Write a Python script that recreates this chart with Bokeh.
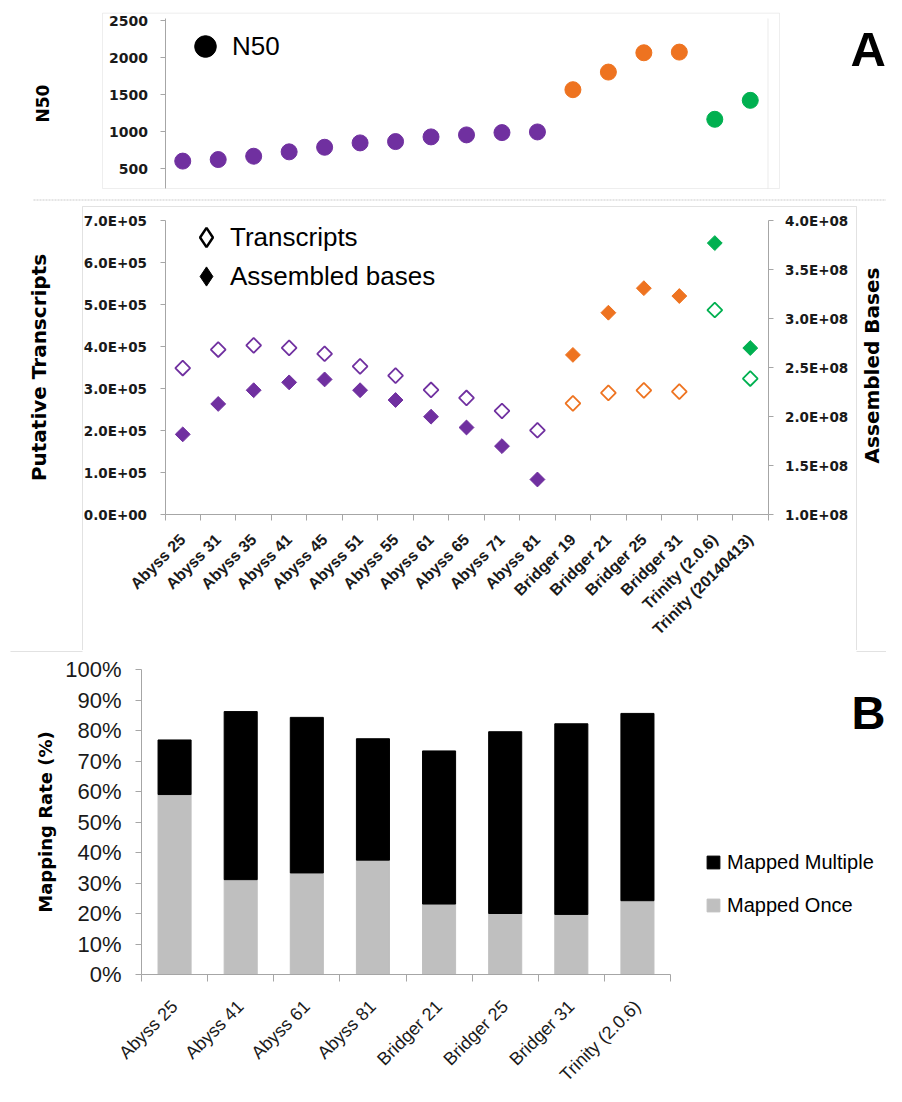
import math
from bokeh.plotting import figure
from bokeh.models import (Range1d, LinearAxis, FixedTicker, Legend, LegendItem,
                          Label, BoxAnnotation, ColumnDataSource)
from bokeh.layouts import column
from bokeh.embed import file_html
from bokeh.resources import INLINE

# ---------------- data ----------------
assemblies = ["Abyss 25", "Abyss 31", "Abyss 35", "Abyss 41", "Abyss 45", "Abyss 51",
              "Abyss 55", "Abyss 61", "Abyss 65", "Abyss 71", "Abyss 81", "Bridger 19",
              "Bridger 21", "Bridger 25", "Bridger 31", "Trinity (2.0.6)", "Trinity (20140413)"]
n50 = [600, 621, 666, 725, 787, 846, 864, 927, 954, 985, 994,
       1565, 1803, 2064, 2073, 1165, 1421]
transcripts = [349000, 393000, 403000, 397000, 383000, 353000, 331000, 297000, 278000,
               247000, 201000, 265000, 290000, 296000, 293000, 487000, 324000]
assembled_bases = [182e6, 213e6, 227e6, 235e6, 238e6, 227e6, 217e6, 200e6, 189e6,
                   170e6, 136e6, 263e6, 306e6, 331e6, 323e6, 377e6, 270e6]

n50_ticks = [500, 1000, 1500, 2000, 2500]
transcript_ticks = [0, 100000, 200000, 300000, 400000, 500000, 600000, 700000]
transcript_tick_labels = ["0.0E+00", "1.0E+05", "2.0E+05", "3.0E+05", "4.0E+05",
                          "5.0E+05", "6.0E+05", "7.0E+05"]
bases_ticks = [100000000, 150000000, 200000000, 250000000, 300000000, 350000000, 400000000]
bases_tick_labels = ["1.0E+08", "1.5E+08", "2.0E+08", "2.5E+08", "3.0E+08", "3.5E+08", "4.0E+08"]

mapping_assemblies = ["Abyss 25", "Abyss 41", "Abyss 61", "Abyss 81",
                      "Bridger 21", "Bridger 25", "Bridger 31", "Trinity (2.0.6)"]
mapped_once = [59.0, 31.1, 33.3, 37.5, 23.1, 20.0, 19.7, 24.2]
mapped_multiple = [17.9, 55.1, 51.0, 39.8, 50.2, 59.6, 62.5, 61.4]
pct_ticks = [0, 10, 20, 30, 40, 50, 60, 70, 80, 90, 100]
pct_tick_labels = ["0%", "10%", "20%", "30%", "40%", "50%", "60%", "70%", "80%", "90%", "100%"]

group_colors = {"Abyss": "#7030A0", "Bridger": "#EE7320", "Trinity": "#00B050"}

# ---------------- helpers ----------------
W = 886
AXIS_GRAY = "#a6a6a6"
BOX_GRAY = "#c8c8c8"
TXT = "#1a1a1a"
NAN = float("nan")


def lin(v0, p0, v1, p1, total):
    """Range whose values v0, v1 fall at pixel offsets p0, p1 of a span of `total` px."""
    s = (p1 - p0) / (v1 - v0)
    start = v0 - p0 / s
    return start, start + total / s


def at(r, px, total):
    return r[0] + (r[1] - r[0]) * px / total


def base_fig(h, xr, yr):
    p = figure(width=W, height=h, x_range=Range1d(*xr), y_range=Range1d(*yr),
               output_backend="svg", toolbar_location=None, min_border=0,
               min_border_left=0, min_border_right=0, min_border_top=0, min_border_bottom=0)
    p.outline_line_color = None
    p.xgrid.visible = False
    p.ygrid.visible = False
    p.background_fill_color = "white"
    p.border_fill_color = "white"
    return p


def style_axis(ax, font, size, bold=True):
    ax.axis_line_color = AXIS_GRAY
    ax.major_tick_line_color = AXIS_GRAY
    ax.minor_tick_line_color = None
    ax.major_label_text_font = font
    ax.major_label_text_font_size = size
    ax.major_label_text_font_style = "bold" if bold else "normal"
    ax.major_label_text_color = TXT
    ax.axis_label_text_color = "black"


def seg(p, x0, x1, y0, y1, color=BOX_GRAY, dash="solid"):
    p.add_layout(BoxAnnotation(left=x0, right=x1, bottom=y0, top=y1,
                               left_units="screen", right_units="screen",
                               bottom_units="screen", top_units="screen",
                               fill_color=None, line_color=color, line_width=1,
                               line_dash=dash))


def single_legend(p, label, renderer, loc, g, size):
    p.add_layout(Legend(items=[LegendItem(label=label, renderers=[renderer])], location=loc,
                        glyph_width=g, glyph_height=g, label_height=g, label_standoff=0,
                        padding=0, margin=0, border_line_color=None, background_fill_alpha=0,
                        label_text_font="Liberation Sans", label_text_font_size=size,
                        label_text_color="black"))


n = len(assemblies)
xpos = list(range(n))
colors = [group_colors[a.split()[0]] for a in assemblies]
src = ColumnDataSource(dict(x=xpos, n50=n50, tr=transcripts, ab=assembled_bases, c=colors))
XR = lin(-0.5, 164.5, n - 0.5, 767.5, W)

# ---------------- panel A top: N50 ----------------
H1 = 201
YR1 = lin(500, 33, 2500, 181, H1)
p1 = base_fig(H1, XR, YR1)
p1.xaxis.visible = False
ya = p1.yaxis[0]
style_axis(ya, "DejaVu Sans", "14px")
ya.fixed_location = -0.5
ya.bounds = (at(YR1, 13, H1), at(YR1, 183, H1))
ya.ticker = FixedTicker(ticks=n50_ticks)
ya.major_tick_out = 5
ya.major_tick_in = 0
ya.major_label_standoff = 12
ya.axis_label = "N50"
ya.axis_label_text_font = "DejaVu Sans"
ya.axis_label_text_font_style = "bold"
ya.axis_label_text_font_size = "17px"
ya.axis_label_standoff = 54

p1.scatter(x="x", y="n50", source=src, marker="circle", size=16,
           fill_color="c", line_color="c")
leg_n50 = p1.scatter(x=[NAN], y=[NAN], marker="circle", size=16,
                     fill_color="black", line_color="black")
single_legend(p1, "N50", leg_n50, (178, 128), 54, "26px")
seg(p1, 102, 779, 13, 188.3)
seg(p1, 767.5, 767.5, 13, 183, color="#dddddd")
seg(p1, 33, 886, 1.5, 1.5, color="#a0a0a0", dash="2 1")
p1.add_layout(Label(x=850, y=153, x_units="screen", y_units="screen", text="A",
                    text_font="Liberation Sans", text_font_style="bold",
                    text_font_size="49px", text_baseline="alphabetic", text_color="black"))

# ---------------- panel A bottom: transcripts / bases ----------------
H2 = 449
YR2 = lin(0, 135.7, 700000, 430, H2)
YB2 = lin(100000000, 135.7, 400000000, 430, H2)
p2 = base_fig(H2, XR, YR2)
p2.extra_y_ranges = {"bases": Range1d(*YB2)}
ya2 = p2.yaxis[0]
style_axis(ya2, "DejaVu Sans", "13.5px")
ya2.fixed_location = -0.5
ya2.bounds = (0, 700000)
ya2.ticker = FixedTicker(ticks=transcript_ticks)
ya2.major_label_overrides = dict(zip(transcript_ticks, transcript_tick_labels))
ya2.major_tick_out = 5
ya2.major_tick_in = 0
ya2.major_label_standoff = 13
ya2.axis_label = "Putative Transcripts"
ya2.axis_label_text_font = "DejaVu Sans"
ya2.axis_label_text_font_style = "bold"
ya2.axis_label_text_font_size = "20px"
ya2.axis_label_standoff = 30

ra2 = LinearAxis(y_range_name="bases", ticker=FixedTicker(ticks=bases_ticks))
style_axis(ra2, "DejaVu Sans", "13.5px")
ra2.fixed_location = n - 0.5
ra2.bounds = (100000000, 400000000)
ra2.major_label_overrides = dict(zip(bases_ticks, bases_tick_labels))
ra2.major_tick_out = 5
ra2.major_tick_in = 0
ra2.major_label_standoff = 12
p2.add_layout(ra2, "right")
# right-hand axis title, reading bottom to top as in the original
p2.add_layout(Label(x=871, y=285, x_units="screen", y_units="screen", text="Assembled Bases",
                    angle=math.pi / 2, text_align="center", text_baseline="middle",
                    text_font="DejaVu Sans", text_font_style="bold", text_font_size="20px",
                    text_color="black"))

xa2 = p2.xaxis[0]
style_axis(xa2, "Liberation Sans", "16px")
xa2.fixed_location = 0
xa2.bounds = (-0.5, n - 0.5)
xa2.ticker = FixedTicker(ticks=xpos, minor_ticks=[i - 0.5 for i in range(n + 1)])
xa2.major_label_overrides = {i: name for i, name in enumerate(assemblies)}
xa2.major_tick_out = 0
xa2.major_tick_in = 0
xa2.minor_tick_line_color = AXIS_GRAY
xa2.minor_tick_out = 6
xa2.minor_tick_in = 0
xa2.major_label_orientation = math.pi / 4
xa2.major_label_standoff = 16

p2.scatter(x="x", y="tr", source=src, marker="square", angle=math.pi / 4, size=10.5,
           fill_color="white", line_color="c", line_width=1.8)
p2.scatter(x="x", y="ab", source=src, marker="square", angle=math.pi / 4, size=10.5,
           fill_color="c", line_color="c", y_range_name="bases")
leg_tr = p2.scatter(x=[NAN], y=[NAN], marker="diamond", size=20, fill_color="white",
                    line_color="black", line_width=2.5)
leg_ab = p2.scatter(x=[NAN], y=[NAN], marker="diamond", size=20, fill_color="black",
                    line_color="black")
single_legend(p2, "Transcripts", leg_tr, (182, 389), 48, "26px")
single_legend(p2, "Assembled bases", leg_ab, (182, 350), 48, "26px")
# panel frame decorations
seg(p2, 82, 856, 444, 444)
seg(p2, 82, 82, -2, 444)
seg(p2, 856, 856, -2, 444)

# ---------------- panel B: mapping rate ----------------
m = len(mapping_assemblies)
xpos3 = list(range(m))
src3 = ColumnDataSource(dict(x=xpos3, once=mapped_once, multiple=mapped_multiple))
H3 = 436
XR3 = lin(-0.5, 141, m - 0.5, 670, W)
YR3 = lin(0, 112, 100, 417, H3)
p3 = base_fig(H3, XR3, YR3)
ya3 = p3.yaxis[0]
style_axis(ya3, "Liberation Sans", "22px", bold=False)
ya3.fixed_location = -0.5
ya3.bounds = (0, 100)
ya3.ticker = FixedTicker(ticks=pct_ticks)
ya3.major_label_overrides = dict(zip(pct_ticks, pct_tick_labels))
ya3.major_tick_out = 6
ya3.major_tick_in = 0
ya3.major_label_standoff = 14
ya3.axis_label = "Mapping Rate (%)"
ya3.axis_label_text_font = "DejaVu Sans"
ya3.axis_label_text_font_style = "bold"
ya3.axis_label_text_font_size = "18px"
ya3.axis_label_standoff = 6

xa3 = p3.xaxis[0]
style_axis(xa3, "Liberation Sans", "18px", bold=False)
xa3.fixed_location = 0
xa3.bounds = (-0.5, m - 0.5)
xa3.ticker = FixedTicker(ticks=xpos3, minor_ticks=[i - 0.5 for i in range(m + 1)])
xa3.major_label_overrides = {i: name for i, name in enumerate(mapping_assemblies)}
xa3.major_tick_out = 0
xa3.major_tick_in = 0
xa3.minor_tick_line_color = AXIS_GRAY
xa3.minor_tick_out = 7
xa3.minor_tick_in = 0
xa3.major_label_orientation = math.pi / 4
xa3.major_label_standoff = 22

rs = p3.vbar_stack(["once", "multiple"], x="x", width=0.5, color=["#BFBFBF", "#000000"],
                   source=src3)
p3.add_layout(Legend(items=[LegendItem(label="Mapped Multiple", renderers=[rs[1]]),
                            LegendItem(label="Mapped Once", renderers=[rs[0]])],
                     location=(705, 168), glyph_width=16, glyph_height=16, label_height=26,
                     spacing=17, label_standoff=6, padding=0, margin=0,
                     border_line_color=None, background_fill_alpha=0,
                     label_text_font="Liberation Sans", label_text_font_size="20px",
                     label_text_color="black"))
p3.add_layout(Label(x=851, y=374, x_units="screen", y_units="screen", text="B",
                    text_font="Liberation Sans", text_font_style="bold",
                    text_font_size="47px", text_baseline="alphabetic", text_color="black"))
seg(p3, 10, 82, 435, 435)
seg(p3, 856, 886, 435, 435)

layout = column(p1, p2, p3, spacing=0)
open("out.html", "w").write(file_html(layout, INLINE))
